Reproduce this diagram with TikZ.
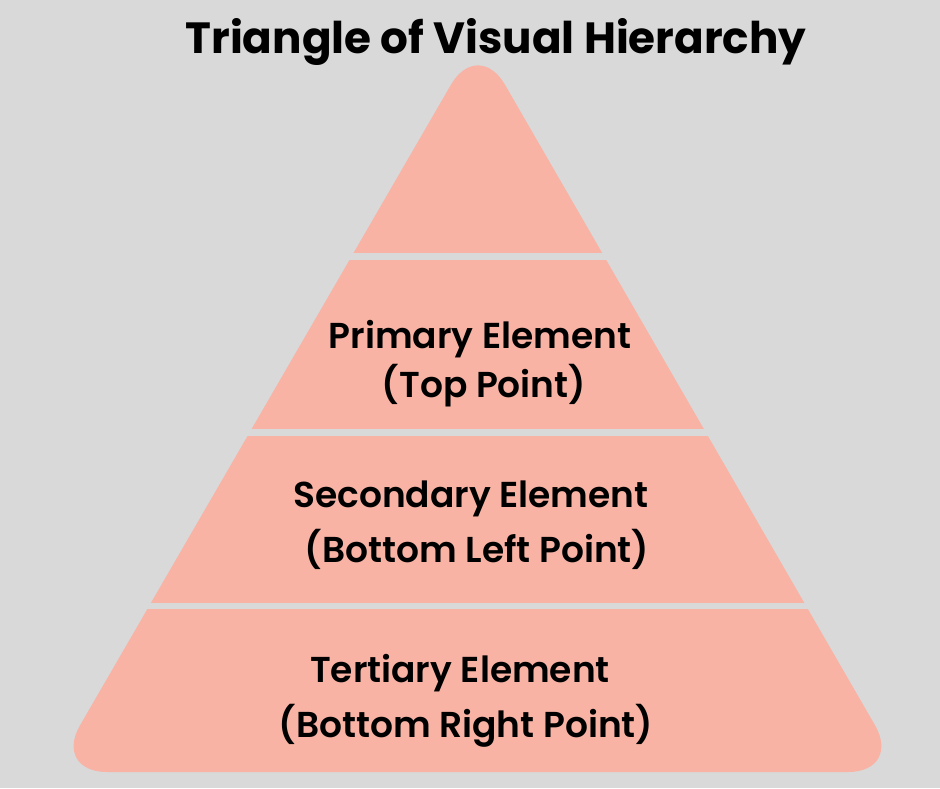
\documentclass[tikz,border=0pt]{standalone}
\usepackage{fontspec}
\setmainfont{Poppins}
\newfontfamily\tierfont{Poppins SemiBold}
\usetikzlibrary{positioning}

\definecolor{canvasgray}{HTML}{D9D9D9}
\definecolor{tierfill}{HTML}{F8B3A5}

\begin{document}
\begin{tikzpicture}
      [x=1pt, y=-1pt,
       heading/.style={font=\bfseries\fontsize{43.7}{54}\selectfont, anchor=base},
       tiertext/.style={font=\tierfont\fontsize{36}{40}\selectfont, anchor=base, inner sep=0pt}]
      % canvas
      \fill[canvasgray] (0,0) rectangle (940,788);

      % the pyramid, cut into four tiers
      \begin{scope}
        \clip[rounded corners=54pt] (478,38) -- (902,772) -- (53,772) -- cycle;
        \foreach \ytop/\ybot in {0/253, 260/429, 436/603, 609/800}
          \fill[tierfill] (0,\ytop) rectangle (940,\ybot);
      \end{scope}

      \node (title) at (496,53) [heading] {Triangle of Visual Hierarchy};

      \node (P1) at (480,348) [tiertext] {Primary Element};
      \node (P2) at (484,397) [tiertext] {(Top Point)};

      \node (S1) at (471,507) [tiertext] {Secondary Element};
      \node (S2) at (477,562) [tiertext] {(Bottom Left Point)};

      \node (T1) at (460,682) [tiertext] {Tertiary Element};
      \node (T2) at (466,737) [tiertext] {(Bottom Right Point)};
\end{tikzpicture}
\end{document}
